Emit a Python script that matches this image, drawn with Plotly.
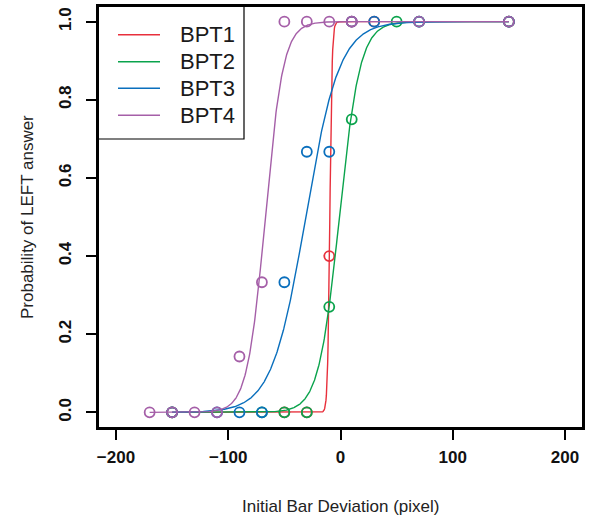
import numpy as np
import plotly.graph_objects as go

series_names = ["BPT1", "BPT2", "BPT3", "BPT4"]
colors = ["#E8303C", "#0AA34C", "#0A6FBD", "#A55FA8"]

bpt1_x = [-150, -50, -30, -10, 10, 30, 150]
bpt1_y = [0, 0, 0, 0.40, 1, 1, 1]
bpt2_x = [-150, -70, -50, -30, -10, 10, 50, 70, 150]
bpt2_y = [0, 0, 0, 0, 0.27, 0.75, 1, 1, 1]
bpt3_x = [-150, -110, -90, -70, -50, -30, -10, 10, 30, 70, 150]
bpt3_y = [0, 0, 0, 0, 0.333, 0.667, 0.667, 1, 1, 1, 1]
bpt4_x = [-170, -150, -130, -110, -90, -70, -50, -30, -10, 10, 70, 150]
bpt4_y = [0, 0, 0, 0, 0.143, 0.333, 1, 1, 1, 1, 1, 1]

# fitted logistic parameters (midpoint, scale)
fit_mid = [-9.5, -1.0, -31.0, -67.0]
fit_scale = [1.0, 9.2, 15.0, 8.0]

xs = [bpt1_x, bpt2_x, bpt3_x, bpt4_x]
ys = [bpt1_y, bpt2_y, bpt3_y, bpt4_y]

x_ticks = [-200, -100, 0, 100, 200]
y_ticks = [0, 0.2, 0.4, 0.6, 0.8, 1.0]

fig = go.Figure()
for i in range(4):
    gx = np.linspace(min(xs[i]), max(xs[i]), 800)
    gy = 1.0 / (1.0 + np.exp(-(gx - fit_mid[i]) / fit_scale[i]))
    fig.add_trace(go.Scatter(x=xs[i], y=ys[i], mode="markers",
                             marker=dict(symbol="circle-open", size=10,
                                         color=colors[i], line=dict(width=1.8, color=colors[i])),
                             showlegend=False, hoverinfo="skip"))
    fig.add_trace(go.Scatter(x=gx, y=gy, mode="lines",
                             line=dict(color=colors[i], width=1.4),
                             showlegend=False, hoverinfo="skip"))

# legend drawn manually (R style)
W, H = 485.0, 422.0
shapes = [
    dict(type="rect", xref="paper", yref="paper", x0=0, x1=1, y0=0, y1=1,
         line=dict(color="black", width=2)),
    dict(type="rect", xref="paper", yref="paper", x0=0, x1=146 / W,
         y0=(428 - 139) / H, y1=1, line=dict(color="black", width=1.2)),
]
annotations = []
row_py = [34.7, 61.7, 88.3, 115.3]
for i, name in enumerate(series_names):
    yp = (428 - row_py[i]) / H
    shapes.append(dict(type="line", xref="paper", yref="paper", x0=20 / W, x1=62 / W,
                       y0=yp, y1=yp, line=dict(color=colors[i], width=1.4)))
    annotations.append(dict(xref="paper", yref="paper", x=80 / W, y=yp, text=name,
                            showarrow=False, xanchor="left", yanchor="middle",
                            font=dict(family="Liberation Sans", size=22, color="#1a1a1a")))

annotations.append(dict(xref="paper", yref="paper", x=0.5, y=(428 - 506) / H,
                        text="Initial Bar Deviation (pixel)", showarrow=False,
                        xanchor="center", yanchor="middle",
                        font=dict(family="Liberation Sans", size=17, color="#222")))
annotations.append(dict(xref="paper", yref="paper", x=(27 - 98) / W, y=0.5,
                        text="Probability of LEFT answer", showarrow=False, textangle=-90,
                        xanchor="center", yanchor="middle",
                        font=dict(family="Liberation Sans", size=17, color="#222")))

fig.update_layout(
    width=590, height=516,
    margin=dict(l=98, r=7, t=6, b=88, autoexpand=False),
    plot_bgcolor="white", paper_bgcolor="white",
    shapes=shapes, annotations=annotations,
    xaxis=dict(range=[-216, 216], tickvals=x_ticks, showgrid=False, zeroline=False,
               showline=True, mirror=True, linecolor="black", linewidth=2,
               ticks="outside", ticklen=10, tickwidth=2, tickcolor="black",
               ticklabelstandoff=3, automargin=False,
               tickfont=dict(family="Liberation Sans", size=17, color="#111", weight="bold")),
    yaxis=dict(range=[-0.04, 1.04], tickvals=y_ticks, tickformat=".1f", showgrid=False,
               zeroline=False, showline=True, mirror=True, linecolor="black", linewidth=2,
               ticks="outside", ticklen=10, tickwidth=2, tickcolor="black",
               tickangle=-90, ticklabelstandoff=8, automargin=False,
               tickfont=dict(family="Liberation Sans", size=17, color="#111", weight="bold")),
)

fig.write_html("out.html", config={"displayModeBar": False},
               post_script="document.body.style.margin='0';document.body.style.padding='0';")
